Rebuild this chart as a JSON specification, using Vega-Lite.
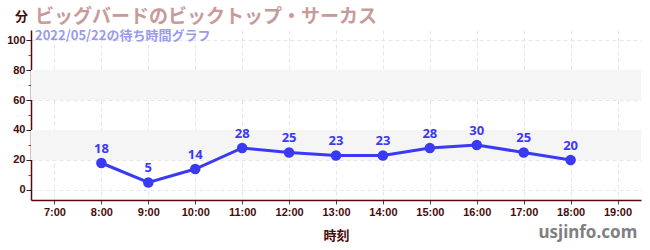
{
  "$schema": "https://vega.github.io/schema/vega-lite/v6.json",
  "width": 610,
  "height": 170,
  "autosize": {"type": "none"},
  "padding": {"left": 31, "top": 30, "right": 9, "bottom": 50},
  "background": "white",
  "title": {
    "text": "ビッグバードのビックトップ・サーカス",
    "subtitle": "2022/05/22の待ち時間グラフ",
    "anchor": "start",
    "frame": "group",
    "orient": "top",
    "offset": -33,
    "dx": 4,
    "font": "Noto Sans CJK JP",
    "fontSize": 19,
    "fontWeight": "bold",
    "color": "#c89a9a",
    "subtitleFont": "Noto Sans CJK JP",
    "subtitleFontSize": 13,
    "subtitleFontWeight": "bold",
    "subtitleColor": "#9a9af0",
    "subtitlePadding": 3
  },
  "config": {
    "view": {"stroke": null},
    "axis": {
      "labelFont": "Liberation Sans",
      "labelFontSize": 11,
      "labelFontWeight": "bold",
      "labelColor": "#4a0a0a",
      "labelOverlap": false,
      "titleFont": "Noto Sans CJK JP",
      "titleColor": "#4a0a0a",
      "titleFontWeight": "bold",
      "titleFontSize": 13,
      "domainColor": "#5a0a0a",
      "domainWidth": 1.5,
      "gridColor": "#e6e6e6",
      "gridDash": [4, 3]
    }
  },
  "resolve": {"axis": {"y": "independent"}},
  "data": {
    "values": [
      {"hour": 8, "wait": 18},
      {"hour": 9, "wait": 5},
      {"hour": 10, "wait": 14},
      {"hour": 11, "wait": 28},
      {"hour": 12, "wait": 25},
      {"hour": 13, "wait": 23},
      {"hour": 14, "wait": 23},
      {"hour": 15, "wait": 28},
      {"hour": 16, "wait": 30},
      {"hour": 17, "wait": 25},
      {"hour": 18, "wait": 20}
    ]
  },
  "layer": [
    {
      "data": {"values": [{"y1": 20, "y2": 40}, {"y1": 60, "y2": 80}]},
      "mark": {"type": "rect", "color": "#f5f5f5"},
      "encoding": {
        "y": {
          "field": "y1",
          "type": "quantitative",
          "scale": {"domain": [-6.667, 106.667], "nice": false, "zero": false},
          "axis": {
            "orient": "left",
            "title": null,
            "values": [10, 30, 50, 70, 90],
            "labels": false,
            "grid": false,
            "domain": false,
            "tickColor": "#dd2222",
            "tickSize": 3
          }
        },
        "y2": {"field": "y2"}
      }
    },
    {
      "mark": {"type": "line", "color": "#3a3af5", "strokeWidth": 3, "point": {"filled": true, "size": 110, "color": "#3a3af5"}},
      "encoding": {
        "x": {
          "field": "hour",
          "type": "quantitative",
          "scale": {"domain": [6.5, 19.5], "nice": false, "zero": false},
          "axis": {
            "title": "時刻",
            "titlePadding": 12,
            "grid": true,
            "values": [7, 8, 9, 10, 11, 12, 13, 14, 15, 16, 17, 18, 19],
            "labelExpr": "datum.value + ':00'",
            "tickColor": "#444444",
            "tickSize": 4,
            "labelPadding": 2
          }
        },
        "y": {
          "field": "wait",
          "type": "quantitative",
          "scale": {"domain": [-6.667, 106.667], "nice": false, "zero": false},
          "axis": {
            "orient": "left",
            "title": "分",
            "titleAngle": 0,
            "titleX": -10,
            "titleY": -14,
            "titleAlign": "center",
            "titleBaseline": "middle",
            "titleFontSize": 13,
            "grid": true,
            "values": [0, 20, 40, 60, 80, 100],
            "labelOverlap": false,
            "labelPadding": 1,
            "tickColor": "#222222",
            "tickSize": 5
          }
        }
      }
    },
    {
      "mark": {"type": "text", "color": "#3a3af5", "font": "Noto Sans", "fontWeight": "bold", "fontSize": 13, "dy": -14},
      "encoding": {
        "x": {"field": "hour", "type": "quantitative"},
        "y": {"field": "wait", "type": "quantitative", "axis": null},
        "text": {"field": "wait", "type": "quantitative"}
      }
    },
    {
      "data": {"values": [{"site": "usjinfo.com"}]},
      "mark": {"type": "text", "color": "#808080", "font": "Noto Sans", "fontWeight": "bold", "fontSize": 17, "align": "right", "baseline": "middle", "clip": false},
      "encoding": {
        "x": {"datum": 19.42, "type": "quantitative"},
        "y": {"datum": -28.7, "type": "quantitative", "axis": null},
        "text": {"field": "site"}
      }
    }
  ]
}
